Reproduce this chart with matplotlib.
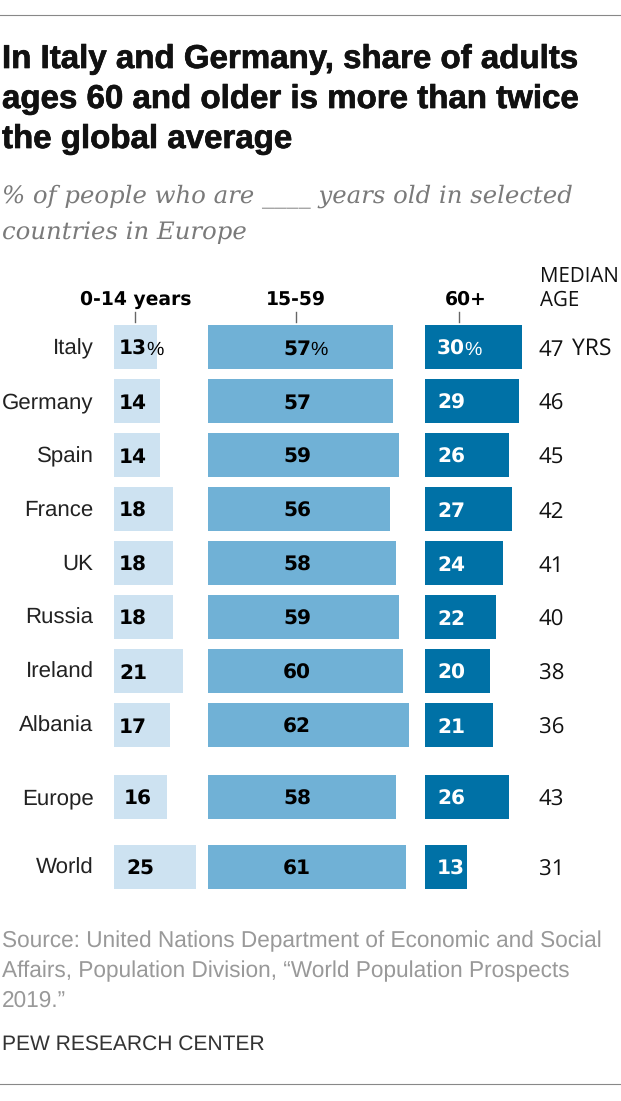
import matplotlib
matplotlib.use("Agg")
import matplotlib.pyplot as plt
import matplotlib.patheffects as pe
from matplotlib.lines import Line2D

plt.rcParams["font.family"] = ["Liberation Sans", "DejaVu Sans"]
plt.rcParams["text.hinting"] = "no_hinting"

W, H = 621, 1101

countries = ["Italy", "Germany", "Spain", "France", "UK", "Russia", "Ireland", "Albania", "Europe", "World"]
age_0_14 = [13, 14, 14, 18, 18, 18, 21, 17, 16, 25]
age_15_59 = [57, 57, 59, 56, 58, 59, 60, 62, 58, 61]
age_60_plus = [30, 29, 26, 27, 24, 22, 20, 21, 26, 13]
median_age = [47, 46, 45, 42, 41, 40, 38, 36, 43, 31]
group_labels = ["0-14 years", "15-59", "60+"]

# layout, in pixels of the reference
row_y = [347, 401, 455, 509, 563, 617, 671, 725, 797, 867]
bar_h = 44
px_per_pct = 3.25
panels = [
    (114.5, 90, age_0_14, "#cde2f1", "black", 119),
    (207.5, 210, age_15_59, "#70b1d6", "black", 283),
    (424.5, 100, age_60_plus, "#0071a6", "white", 437),
]
head_x = [136, 296, 466]
tick_x = [135, 296, 459]
BOLD = ["DejaVu Sans"]
MED = ["Open Sans", "DejaVu Sans"]

fig = plt.figure(figsize=(W / 100, H / 100), dpi=100, facecolor="white")


def t(x, y, s, **kw):
    kw.setdefault("va", "baseline")
    return fig.text(x / W, 1 - y / H, s, **kw)


for (x0, span, vals, col, txt, lab_x), hx, tx, name in zip(panels, head_x, tick_x, group_labels):
    ax = fig.add_axes([x0 / W, 0, span / W, 1])
    ax.set_xlim(0, span / px_per_pct)
    ax.set_ylim(H, 0)
    ax.axis("off")
    ax.barh(row_y, vals, height=bar_h, color=col, linewidth=0)
    for i, (y, v) in enumerate(zip(row_y, vals)):
        px = lab_x
        if name == "0-14 years" and countries[i] == "Europe":
            px = 124
        if name == "0-14 years" and countries[i] == "World":
            px = 126
        t(px, y + 8, str(v), ha="left", color=txt, fontsize=14.5, fontweight="bold", family=BOLD)
        if i == 0:
            t(px + 27, y + 8, "%", ha="left", color=txt, fontsize=14)
    t(hx, 305, name, ha="center", fontsize=13.5, fontweight="bold", family=BOLD)
    fig.add_artist(Line2D([tx / W, tx / W], [1 - 312 / H, 1 - 322 / H], color="#666666", lw=1))

for y, c, m in zip(row_y, countries, median_age):
    t(93.5, y + 7, c, ha="right", color="#222222", fontsize=16)
    t(539, y + 9, str(m), ha="left", color="#111111", fontsize=16, family=MED)
t(572, row_y[0] + 8, "YRS", ha="left", color="#111111", fontsize=16.5, family=MED)

t(540, 282, "MEDIAN", ha="left", fontsize=14.8, color="#111111", family=MED)
t(540, 306, "AGE", ha="left", fontsize=14.8, color="#111111", family=MED)

# title block
for y, s in zip([68, 108, 148], ["In Italy and Germany, share of adults",
                                 "ages 60 and older is more than twice",
                                 "the global average"]):
    t(2, y, s, ha="left", fontsize=23.8, fontweight="bold", color="#111111",
      path_effects=[pe.withStroke(linewidth=0.5, foreground="#111111")])

for y, s in zip([202, 239], ["% of people who are ____ years old in selected", "countries in Europe"]):
    t(2, y, s, ha="left", fontsize=17.6, style="italic", color="#7a7a7a", family=["DejaVu Serif"])

for y, s in zip([947, 977, 1007], ["Source: United Nations Department of Economic and Social",
                                   "Affairs, Population Division, \u201cWorld Population Prospects",
                                   "2019.\u201d"]):
    t(2, y, s, ha="left", fontsize=16.3, color="#999999")
t(2, 1050, "PEW RESEARCH CENTER", ha="left", fontsize=15.1, color="#333333")

for y in (14.5, 1083.5):
    fig.add_artist(Line2D([0, 620 / W], [1 - y / H, 1 - y / H], color="#888888", lw=0.8))

fig.savefig("out.png", dpi=100)
